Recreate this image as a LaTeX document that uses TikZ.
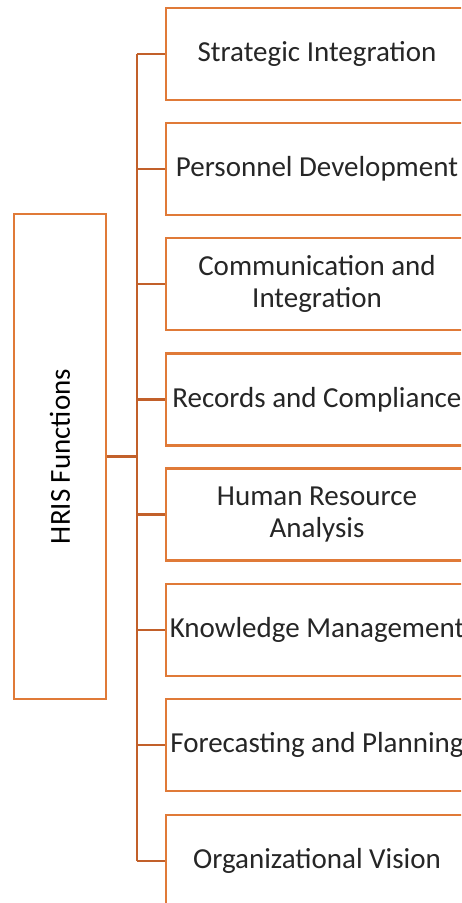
\documentclass[tikz,border=0pt]{standalone}
\usepackage{fontspec}
\setmainfont{Carlito}
\usepackage{xcolor}
\definecolor{boxorange}{RGB}{224,122,56}
\definecolor{linkorange}{RGB}{194,96,42}
\tikzset{
  func/.style={draw=boxorange,line width=2.8pt,fill=white,minimum width=302pt,
    minimum height=92pt,inner sep=0pt,align=center,
    font=\fontsize{29}{32}\selectfont\color{black!85}},
  root/.style={draw=boxorange,line width=2.8pt,minimum width=92pt,
    minimum height=485pt,inner sep=0pt},
  link/.style={draw=linkorange,line width=2.8pt}
}

\begin{document}
\begin{tikzpicture}[x=1pt,y=-1pt]
    \useasboundingbox (0,0) rectangle (461,903);
    \clip (0,0) rectangle (461,903);

    \node[root] (hris) at (60,456.5) {};
    \node[rotate=90,font=\fontsize{29}{32}\selectfont] (hrislabel) at (hris.center) {HRIS Functions};

    \begin{scope}[every node/.style={func}]
        \node (strat) at (317, 54)   {Strategic Integration};
        \node (pers)  at (317, 169)  {Personnel Development};
        \node (comm)  at (317, 284)  {Communication and\\Integration};
        \node (recs)  at (317, 399.5){Records and Compliance};
        \node (hra)   at (317, 514.5){Human Resource\\Analysis};
        \node (know)  at (317, 630)  {Knowledge Management};
        \node (fore)  at (317, 745)  {Forecasting and Planning};
        \node (org)   at (317, 861)  {Organizational Vision};
    \end{scope}

    \coordinate (trunk) at (137,0);
    \begin{scope}[every path/.style={link}]
        \path (hris.east) edge (hris.east -| trunk);
        \path (strat.west -| trunk) edge (org.west -| trunk);

        \path (strat.west -| trunk) edge (strat.west);
        \path (pers.west -| trunk)  edge (pers.west);
        \path (comm.west -| trunk)  edge (comm.west);
        \path (recs.west -| trunk)  edge (recs.west);
        \path (hra.west -| trunk)   edge (hra.west);
        \path (know.west -| trunk)  edge (know.west);
        \path (fore.west -| trunk)  edge (fore.west);
        \path (org.west -| trunk)   edge (org.west);
    \end{scope}
\end{tikzpicture}
\end{document}
